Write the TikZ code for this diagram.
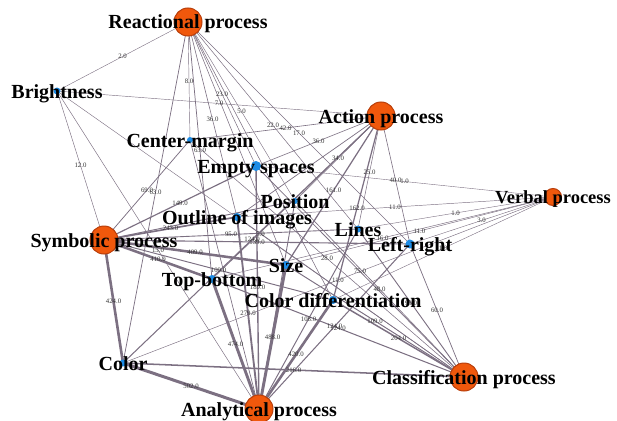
\documentclass[tikz,border=0pt]{standalone}
\usepackage{fontspec}
\setmainfont{Liberation Serif}
\definecolor{edgec}{RGB}{124,112,130}
\definecolor{procfill}{RGB}{240,88,12}
\definecolor{procdraw}{RGB}{185,62,10}
\definecolor{featfill}{RGB}{28,140,230}
\tikzset{
  edge/.style={draw=edgec, line cap=round},
  elab/.style={font=\fontsize{6.8}{7.5}\selectfont, text=black!80, inner sep=0pt, midway},
  proc/.style={circle, fill=procfill, draw=procdraw, line width=1pt, inner sep=0pt, minimum size=28pt},
  procsmall/.style={proc, minimum size=17pt},
  feat/.style={circle, fill=featfill, inner sep=0pt, minimum size=#1},
  lab/.style={font=\fontsize{20}{22}\selectfont\bfseries, text=black, anchor=base, yshift=-7pt, inner sep=0pt},
  labsmall/.style={lab, font=\fontsize{18.5}{20}\selectfont\bfseries, yshift=0.5pt}
}
\begin{document}
\begin{tikzpicture}[x=1pt, y=-1pt]
\useasboundingbox (0,0) rectangle (617,420);
\clip (0,0) rectangle (617,420);
% centres
\coordinate (R) at (188,22);
\coordinate (A) at (381,116);
\coordinate (V) at (553,197);
\coordinate (S) at (104,240);
\coordinate (C) at (464,377);
\coordinate (N) at (259,409);
\coordinate (Br) at (57,91);
\coordinate (CM) at (190,140);
\coordinate (ES) at (256,166);
\coordinate (Po) at (295,201);
\coordinate (Ou) at (237,217);
\coordinate (Li) at (358,229);
\coordinate (LR) at (410,244);
\coordinate (Si) at (286,265);
\coordinate (TB) at (212,279);
\coordinate (CD) at (333,300);
\coordinate (Co) at (123,363);
\def\edgelist{
 R/Br/2/2.0, R/CM/8/8.0, R/ES/23/23.0, R/Po/5/5.0, R/Ou/36/36.0, R/Li/22/22.0, R/LR/17/17.0, R/Si/30/{}, R/TB/63/63.0, R/CD/30/{}, R/Co/63/63.0,
 A/Br/7/7.0, A/CM/42/42.0, A/ES/36/36.0, A/Po/34/34.0, A/Ou/60/{}, A/Li/25/25.0, A/LR/40/40.0, A/Si/161/161.0, A/TB/80/{}, A/CD/162/162.0, A/Co/124/124.0,
 V/ES/1/1.0, V/Ou/11/11.0, V/Li/1/1.0, V/LR/3/3.0, V/Si/11/11.0, V/TB/16/16.0, V/CD/1/1.0, V/Co/11/11.0,
 S/Br/12/12.0, S/CM/69/69.0, S/ES/149/149.0, S/Po/100/{}, S/Ou/243/243.0, S/Li/95/95.0, S/LR/139/139.0, S/Si/409/409.0, S/TB/410/410.0, S/CD/109/109.0, S/Co/424/424.0,
 C/Br/5/5.0, C/CM/28/28.0, C/ES/75/75.0, C/Po/48/48.0, C/Ou/60/{}, C/Li/99/99.0, C/LR/60/60.0, C/Si/109/109.0, C/TB/124/124.0, C/CD/204/204.0, C/Co/216/216.0,
 N/Br/15/15.0, N/CM/50/{}, N/ES/189/189.0, N/Po/91/91.0, N/Ou/279/279.0, N/Li/108/108.0, N/LR/124/124.0, N/Si/488/488.0, N/TB/474/474.0, N/CD/420/420.0, N/Co/502/502.0}
% edges
\foreach \a/\b/\w/\l in \edgelist {
  \pgfmathsetmacro{\lw}{0.4+\w*0.0052}
  \draw[edge, line width=\lw pt] (\a) -- (\b);
}
% edge labels
\foreach \a/\b/\w/\l in \edgelist {
  \path (\a) -- (\b) node[elab] {\l};
}
% process circles
\node[proc] (Rn) at (R) {};
\node[proc] (An) at (A) {};
\node[procsmall] (Vn) at (V) {};
\node[proc] (Sn) at (S) {};
\node[proc] (Cn) at (C) {};
\node[proc] (Nn) at (N) {};
% feature dots
\node[feat=7pt] (Brn) at (Br) {};
\node[feat=6pt] (CMn) at (CM) {};
\node[feat=10pt] (ESn) at (ES) {};
\node[feat=6pt] (Pon) at (Po) {};
\node[feat=8pt] (Oun) at (Ou) {};
\node[feat=7pt] (Lin) at (Li) {};
\node[feat=9pt] (LRn) at (LR) {};
\node[feat=8pt] (Sin) at (Si) {};
\node[feat=8pt] (TBn) at (TB) {};
\node[feat=8pt] (CDn) at (CD) {};
\node[feat=7pt] (Con) at (Co) {};
% labels
\node[lab] (Rl) at (R) {Reactional process};
\node[lab] (Al) at (A) {Action process};
\node[labsmall] (Vl) at (V) {Verbal process};
\node[lab] (Sl) at (S) {Symbolic process};
\node[lab] (Cl) at (C) {Classification process};
\node[lab] (Nl) at (N) {Analytical process};
\node[lab] (Brl) at (Br) {Brightness};
\node[lab] (CMl) at (CM) {Center-margin};
\node[lab] (ESl) at (ES) {Empty spaces};
\node[lab] (Pol) at (Po) {Position};
\node[lab] (Oul) at (Ou) {Outline of images};
\node[lab] (Lil) at (Li) {Lines};
\node[lab] (LRl) at (LR) {Left-right};
\node[lab] (Sil) at (Si) {Size};
\node[lab] (TBl) at (TB) {Top-bottom};
\node[lab] (CDl) at (CD) {Color differentiation};
\node[lab] (Col) at (Co) {Color};
\end{tikzpicture}
\end{document}
